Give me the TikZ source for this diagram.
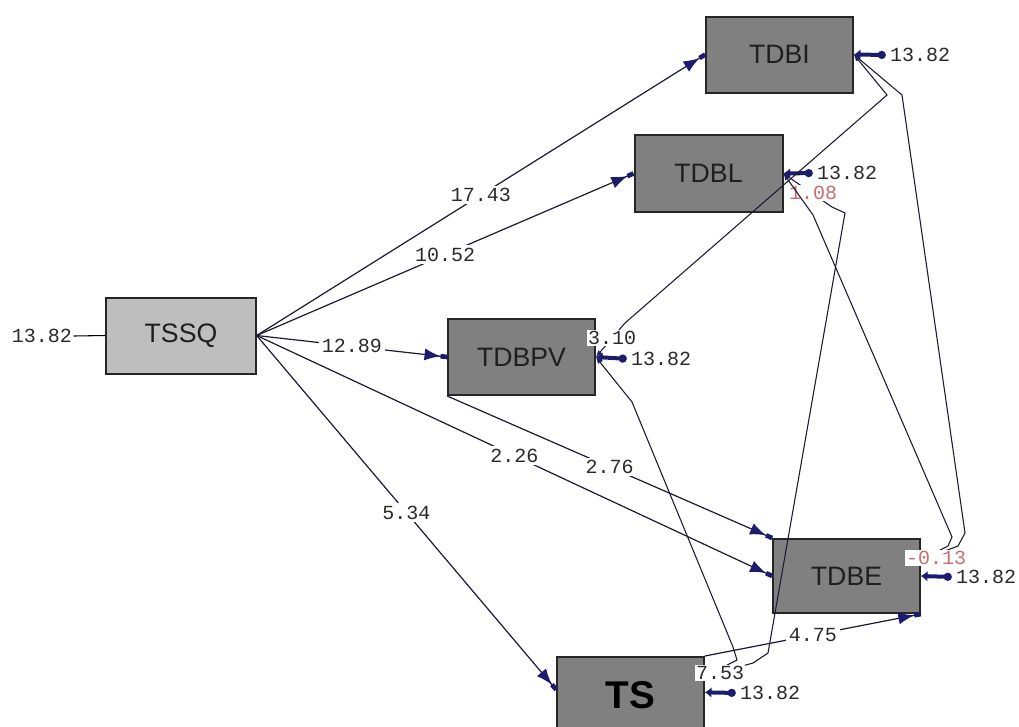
\documentclass[tikz,border=0pt]{standalone}
\usepackage{fontspec}
\setmainfont{Liberation Sans}
\newfontfamily\monofont{Liberation Mono}
\usetikzlibrary{arrows.meta}
\definecolor{boxdark}{HTML}{808080}
\definecolor{boxlight}{HTML}{BEBEBE}
\definecolor{edgec}{HTML}{1A1A33}
\definecolor{tipc}{HTML}{1C1C6E}
\definecolor{redlab}{HTML}{C86E6E}
\definecolor{labtxt}{HTML}{2A2A2A}
\begin{document}
\begin{tikzpicture}[x=0.75pt,y=-0.75pt,
  varbox/.style={draw=black!85, line width=1.5pt, fill=boxdark, minimum width=110pt,
    minimum height=57pt, inner sep=0pt, font=\fontsize{20}{24}\selectfont, text=black!88},
  pathlab/.style={fill=white, inner sep=2pt, font=\monofont\fontsize{15}{17}\selectfont, text=labtxt},
  errlab/.style={inner sep=1pt, font=\monofont\fontsize{15}{17}\selectfont, text=labtxt},
  covlab/.style={fill=white, inner sep=1pt, font=\monofont\fontsize{15}{17}\selectfont, text=labtxt},
  causal/.style={draw=edgec, line width=0.9pt,
    -{Latex[length=12pt,width=9pt,color=tipc,sep=0pt]Rectangle[length=5pt,width=3.5pt,color=tipc]}},
  errarr/.style={draw=tipc, line width=3pt, shorten <=2pt,
    {Circle[length=6pt]}-{Latex[length=5pt,width=8pt]}},
  cov/.style={draw=edgec, line width=0.8pt,
    {Latex[length=5pt,width=4pt,color=tipc]}-{Latex[length=5pt,width=4pt,color=tipc]}},
]
\fill[white] (0,0) rectangle (1019,726);
\useasboundingbox (0,0) rectangle (1019,726);

% variables
\node[varbox] (TDBI) at (779.5,54.5) {TDBI};
\node[varbox, minimum width=111pt, minimum height=58pt] (TDBL) at (708.5,173.5) {TDBL};
\node[varbox, fill=boxlight, minimum width=112pt] (TSSQ) at (181,335.5) {TSSQ};
\node[varbox] (TDBPV) at (521.5,357) {TDBPV};
\node[varbox, minimum height=55.5pt] (TDBE) at (846.5,576) {TDBE};
\node[varbox, font=\bfseries\fontsize{29}{32}\selectfont, text=black] (TS) at (630.5,695) {TS};

% causal paths
\draw[causal] (TSSQ.east) -- node[pathlab] (p1) {17.43} (TDBI.west);
\draw[causal] (TSSQ.east) -- node[pathlab] (p2) {10.52} (TDBL.west);
\draw[causal] (TSSQ.east) -- node[pathlab] (p3) {12.89} (TDBPV.west);
\draw[causal] (TSSQ.east) -- node[pathlab] (p4) {2.26} (TDBE.west);
\draw[causal] (TDBPV.south west) -- node[pathlab] (p5) {2.76} (TDBE.north west);
\draw[causal] (TSSQ.east) -- node[pathlab] (p6) {5.34} ([yshift=4pt]TS.west);
\draw[causal] (TS.north east) -- node[pathlab] (p7) {4.75} (TDBE.south east);

% error terms
\node[errlab] (eTSSQ) at (42,336) {13.82};
\draw[draw=black, line width=0.8pt] (eTSSQ.east) -- (TSSQ.west);
\node[errlab] (eI) at (920,55) {13.82};
\draw[errarr] (eI.west) -- (TDBI.east);
\node[errlab] (eL) at (847,173) {13.82};
\draw[errarr] (eL.west) -- (TDBL.east);
\node[errlab] (ePV) at (661,359) {13.82};
\draw[errarr] (ePV.west) -- (TDBPV.east);
\node[errlab] (eE) at (986,577) {13.82};
\draw[errarr] (eE.west) -- (TDBE.east);
\node[errlab] (eS) at (770,693) {13.82};
\draw[errarr] (eS.west) -- ([yshift=2pt]TS.east);

% covariances between error terms
\draw[cov] (TDBI.east) -- (887,95) -- (625,323) -- (TDBPV.east);
\draw[cov] (TDBI.east) -- (902,95) -- (965,533) -- (958,546) -- ([yshift=12pt]TDBE.east);
\draw[cov] (TDBL.east) -- (832,207) -- (845,213) -- (768,653) -- (753,663) -- ([yshift=14pt]TS.east);
\node[covlab, text=redlab] (l108) at (813,193) {1.08};
\draw[cov] (TDBL.east) -- (813,215) -- (952,537) -- (948,546) -- ([yshift=12pt]TDBE.east);
\draw[cov] (TDBPV.east) -- (632,402) -- (733,647) -- (737,660) -- ([yshift=14pt]TS.east);

\node[covlab] (l310) at (612,338) {3.10};
\node[covlab] (l753) at (720,673) {7.53};
\node[covlab, text=redlab] (l013) at (936,558) {-0.13};
\end{tikzpicture}
\end{document}
